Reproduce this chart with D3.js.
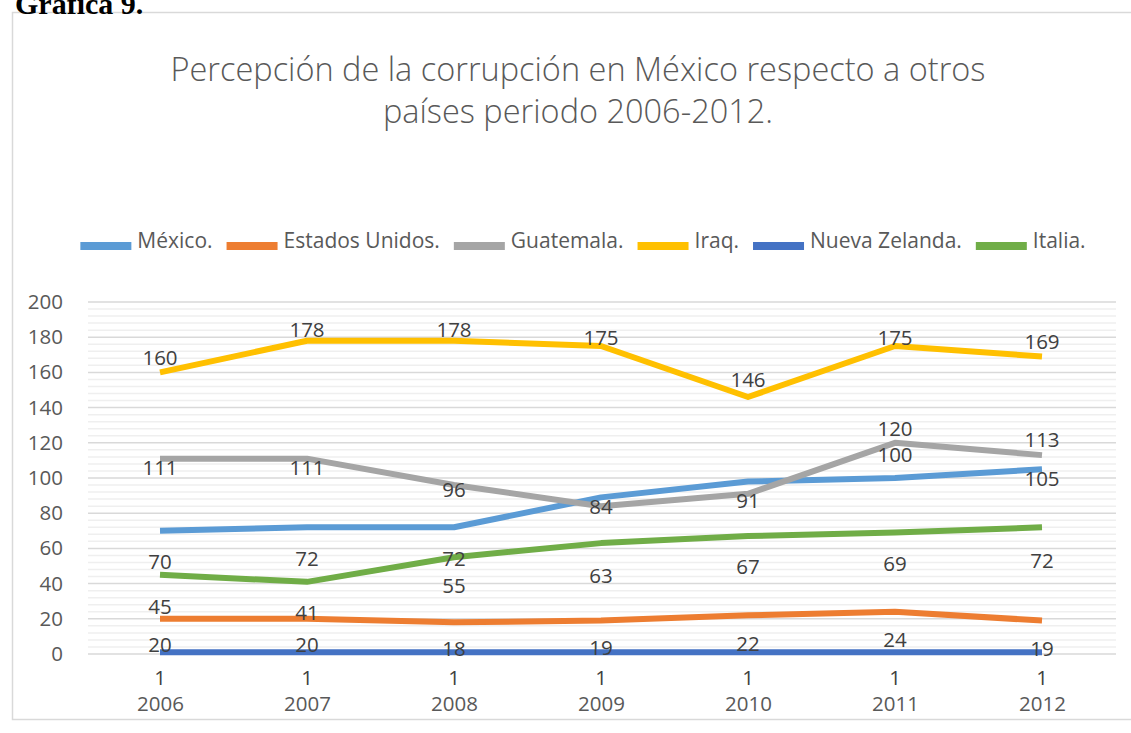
<!DOCTYPE html>
<html>
<head>
<meta charset="utf-8">
<script src="https://cdn.jsdelivr.net/npm/d3@7"></script>
<style>
  body { margin: 0; background: #fff; }
  svg { display: block; }
  text { font-family: "Open Sans", "Noto Sans", sans-serif; }
</style>
</head>
<body>
<svg id="chart" width="1131" height="733"></svg>
<script>
// datos (lugar en el indice de percepcion de la corrupcion)
const years = ["2006", "2007", "2008", "2009", "2010", "2011", "2012"];
const countries = ["México.", "Estados Unidos.", "Guatemala.", "Iraq.", "Nueva Zelanda.", "Italia."];
const mexico = [70, 72, 72, 89, 98, 100, 105];
const estadosUnidos = [20, 20, 18, 19, 22, 24, 19];
const guatemala = [111, 111, 96, 84, 91, 120, 113];
const iraq = [160, 178, 178, 175, 146, 175, 169];
const nuevaZelanda = [1, 1, 1, 1, 1, 1, 1];
const italia = [45, 41, 55, 63, 67, 69, 72];
const yTicks = [0, 20, 40, 60, 80, 100, 120, 140, 160, 180, 200];

const seriesValues = [mexico, estadosUnidos, guatemala, iraq, nuevaZelanda, italia];
const colors = ["#5B9BD5", "#ED7D31", "#A5A5A5", "#FFC000", "#4472C4", "#70AD47"];
// desplazamiento vertical de las etiquetas (null = sin etiqueta)
const labelDy = [
  [31, 31, 31, null, null, -23, 9],
  [26, 26, 26, 27, 28, 28, 28],
  [9, 9, 5, 0, 7, -14, -16],
  [-15, -11, -11, -8, -17, -8, -15],
  [25, 25, 25, 25, 25, 25, 25],
  [32, 31, 28, 32, 31, 31, 33]
];

const svg = d3.select("#chart");

const x = d3.scalePoint().domain(years).range([86.5, 1115.5]).padding(0.5);
const y = d3.scaleLinear().domain([0, 200]).range([654, 302]);

// marco
svg.append("rect")
  .attr("x", 12.5).attr("y", 12.5)
  .attr("width", 1140).attr("height", 707)
  .attr("fill", "none").attr("stroke", "#d9d9d9").attr("stroke-width", 1.5);

svg.append("text")
  .attr("x", 15).attr("y", 14)
  .style("font-family", "'Liberation Serif', 'Times New Roman', serif")
  .style("font-weight", "bold").style("font-size", "30px")
  .attr("fill", "#000")
  .text("Gráfica 9.");

// titulo
const title = svg.append("text")
  .attr("text-anchor", "middle")
  .style("font-size", "32.5px").style("font-weight", 300)
  .attr("fill", "#595959");
title.append("tspan").attr("x", 578).attr("y", 81)
  .text("Percepción de la corrupción en México respecto a otros");
title.append("tspan").attr("x", 578).attr("y", 123)
  .text("países periodo 2006-2012.");

// rejilla
const minor = d3.range(0, 201, 4).filter(d => d % 20 !== 0);
svg.append("g").selectAll("line").data(minor).join("line")
  .attr("x1", 88).attr("x2", 1116)
  .attr("y1", d => y(d)).attr("y2", d => y(d))
  .attr("stroke", "#efefef").attr("stroke-width", 1.5);
svg.append("g").selectAll("line").data(yTicks).join("line")
  .attr("x1", 88).attr("x2", 1116)
  .attr("y1", d => y(d)).attr("y2", d => y(d))
  .attr("stroke", "#d9d9d9").attr("stroke-width", 1.5);

// ejes
const yAxis = svg.append("g")
  .attr("transform", "translate(70,0)")
  .call(d3.axisLeft(y).tickValues(yTicks).tickSize(0).tickPadding(7));
yAxis.select(".domain").remove();
yAxis.selectAll("text")
  .style("font-size", "20.5px").attr("fill", "#595959")
  .style("font-family", "'Open Sans', sans-serif");

const xAxis = svg.append("g")
  .attr("transform", `translate(0,${y(0)})`)
  .call(d3.axisBottom(x).tickSize(0).tickPadding(42));
xAxis.select(".domain").remove();
xAxis.selectAll("text")
  .style("font-size", "20.5px").attr("fill", "#595959")
  .style("font-family", "'Open Sans', sans-serif");

// lineas
const line = d3.line().x((d, i) => x(years[i])).y(d => y(d));
svg.append("g").selectAll("path").data(seriesValues).join("path")
  .attr("d", line)
  .attr("fill", "none")
  .attr("stroke", (d, i) => colors[i])
  .attr("stroke-width", 6)
  .attr("stroke-linejoin", "round");

// etiquetas de datos
seriesValues.forEach((vals, s) => {
  svg.append("g").selectAll("text")
    .data(vals.map((v, i) => ({ v, i, dy: labelDy[s][i] })).filter(d => d.dy !== null))
    .join("text")
    .attr("x", d => x(years[d.i]))
    .attr("y", d => y(d.v) + d.dy)
    .attr("dy", "0.36em")
    .attr("text-anchor", "middle")
    .style("font-size", "20.5px")
    .attr("fill", "#404040")
    .text(d => d.v);
});

// leyenda
const legend = svg.append("g");
const items = legend.selectAll("g").data(countries).join("g");
items.append("rect")
  .attr("width", 51).attr("height", 8).attr("y", 242)
  .attr("fill", (d, i) => colors[i]);
items.append("text")
  .attr("x", 57).attr("y", 248)
  .style("font-size", "21px").attr("fill", "#595959")
  .text(d => d);
let cx = 0;
items.each(function () {
  const w = d3.select(this).select("text").node().getComputedTextLength();
  d3.select(this).attr("transform", `translate(${cx},0)`);
  cx += 57 + w + 14;
});
const total = cx - 14;
legend.attr("transform", `translate(${583 - total / 2},0)`);
</script>
</body>
</html>
